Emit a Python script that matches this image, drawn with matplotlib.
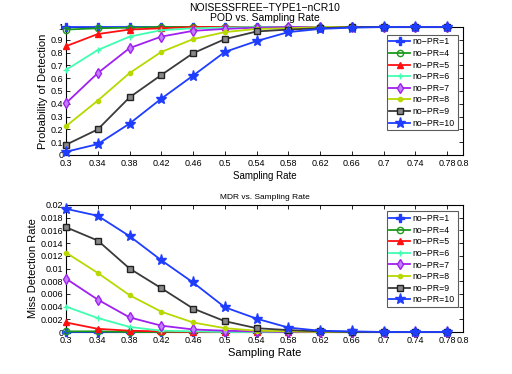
import matplotlib
matplotlib.use("Agg")
import matplotlib.pyplot as plt
import numpy as np

plt.rcParams['font.family'] = ['Liberation Sans', 'DejaVu Sans']

x = [0.3, 0.34, 0.38, 0.42, 0.46, 0.5, 0.54, 0.58, 0.62, 0.66, 0.7, 0.74, 0.78]
labels = ['no\u2212PR=1', 'no\u2212PR=4', 'no\u2212PR=5', 'no\u2212PR=6',
          'no\u2212PR=7', 'no\u2212PR=8', 'no\u2212PR=9', 'no\u2212PR=10']

pod_pr1 = [1, 1, 1, 1, 1, 1, 1, 1, 1, 1, 1, 1, 1]
pod_pr4 = [0.98, 0.99, 0.995, 1, 1, 1, 1, 1, 1, 1, 1, 1, 1]
pod_pr5 = [0.85, 0.945, 0.98, 0.99, 1, 1, 1, 1, 1, 1, 1, 1, 1]
pod_pr6 = [0.665, 0.82, 0.925, 0.975, 0.99, 0.995, 1, 1, 1, 1, 1, 1, 1]
pod_pr7 = [0.405, 0.64, 0.835, 0.925, 0.97, 0.985, 0.995, 1, 1, 1, 1, 1, 1]
pod_pr8 = [0.225, 0.425, 0.64, 0.805, 0.905, 0.96, 0.985, 0.99, 1, 1, 1, 1, 1]
pod_pr9 = [0.08, 0.2, 0.45, 0.625, 0.795, 0.905, 0.965, 0.98, 0.99, 1, 1, 1, 1]
pod_pr10 = [0.025, 0.085, 0.245, 0.44, 0.62, 0.805, 0.89, 0.96, 0.985, 0.995, 1, 1, 1]

mdr_pr1 = [0, 0, 0, 0, 0, 0, 0, 0, 0, 0, 0, 0, 0]
mdr_pr4 = [0.0001, 0.0001, 0, 0, 0, 0, 0, 0, 0, 0, 0, 0, 0]
mdr_pr5 = [0.0015, 0.0005, 0.0002, 0.0001, 0, 0, 0, 0, 0, 0, 0, 0, 0]
mdr_pr6 = [0.0040, 0.0022, 0.0008, 0.0002, 0.0001, 0, 0, 0, 0, 0, 0, 0, 0]
mdr_pr7 = [0.0084, 0.0051, 0.0023, 0.0010, 0.0004, 0.0002, 0.0001, 0, 0, 0, 0, 0, 0]
mdr_pr8 = [0.0125, 0.0093, 0.0058, 0.0032, 0.0015, 0.0006, 0.0002, 0.0001, 0, 0, 0, 0, 0]
mdr_pr9 = [0.0165, 0.0144, 0.0100, 0.0069, 0.0037, 0.0017, 0.0006, 0.0003, 0.0001, 0, 0, 0, 0]
mdr_pr10 = [0.0194, 0.0183, 0.0151, 0.0113, 0.0078, 0.0039, 0.0021, 0.0007, 0.0002, 0.0001, 0, 0, 0]

pod = [pod_pr1, pod_pr4, pod_pr5, pod_pr6, pod_pr7, pod_pr8, pod_pr9, pod_pr10]
mdr = [mdr_pr1, mdr_pr4, mdr_pr5, mdr_pr6, mdr_pr7, mdr_pr8, mdr_pr9, mdr_pr10]

colors = ['#1f3dff', '#1a9a1a', '#ff1010', '#40ffb0', '#a020f0', '#b8d800', '#3a3a3a', '#1f3dff']
markers = ['P', 'o', '^', '+', 'd', '.', 's', '*']
msizes = [5.5, 4.5, 5, 5, 5, 6, 4, 8]
faces = ['#1f3dff', 'none', '#ff1010', '#40ffb0', '#c080ff', '#b8d800', '#888888', '#1f3dff']
edges = ['#1f3dff', '#1a9a1a', '#ff1010', '#40ffb0', '#a020f0', '#b8d800', '#222222', '#1f3dff']

xticks = [0.3, 0.34, 0.38, 0.42, 0.46, 0.5, 0.54, 0.58, 0.62, 0.66, 0.7, 0.74, 0.78, 0.8]
xticklabels = ['0.3', '0.34', '0.38', '0.42', '0.46', '0.5', '0.54', '0.58', '0.62', '0.66', '0.7', '0.74', '0.78', '0.8']

fig = plt.figure(figsize=(5.12, 3.74), dpi=100)
W, H = 512, 374
ax1 = fig.add_axes([66 / W, 1 - 155 / H, (463 - 66) / W, (155 - 27) / H])
ax2 = fig.add_axes([66 / W, 1 - 332 / H, (463 - 66) / W, (332 - 205) / H])


def style(ax):
    ax.set_xlim(0.3, 0.8)
    ax.set_xticks(xticks)
    ax.set_xticklabels(xticklabels)
    ax.tick_params(direction='in', length=3, width=0.6, labelsize=6.5,
                   top=True, right=True)
    ax.tick_params(axis='x', pad=3)
    ax.tick_params(axis='y', pad=2)
    for s in ax.spines.values():
        s.set_linewidth(0.8)


for i in range(8):
    for ax, data in ((ax1, pod[i]), (ax2, mdr[i])):
        ax.plot(x, data, color=colors[i], marker=markers[i], markersize=msizes[i],
                linewidth=1.3, label=labels[i], markeredgecolor=edges[i],
                markerfacecolor=faces[i], markeredgewidth=1.0,
                clip_on=False, zorder=3)

style(ax1)
ax1.set_ylim(0, 1)
ax1.set_yticks(np.arange(0, 1.01, 0.1))
ax1.set_yticklabels(['0', '0.1', '0.2', '0.3', '0.4', '0.5', '0.6', '0.7', '0.8', '0.9', '1'])
ax1.set_xlabel('Sampling Rate', fontsize=7, labelpad=2)
ax1.set_ylabel('Probability of Detection', fontsize=8, labelpad=2)
ax1.set_title('NOISESSFREE\u2212TYPE1\u2212nCR10\nPOD vs. Sampling Rate', fontsize=7.5,
              linespacing=1.1, pad=4)
leg1 = ax1.legend(loc='upper right', fontsize=6.3, frameon=True, fancybox=False,
                  edgecolor='#333333', handlelength=2.4, borderpad=0.3, labelspacing=0.3,
                  handletextpad=0.3, borderaxespad=0.3, bbox_to_anchor=(0.993, 0.96))
leg1.get_frame().set_linewidth(0.8)

style(ax2)
ax2.set_ylim(0, 0.02)
yt = np.arange(0, 0.0201, 0.002)
ax2.set_yticks(yt)
ax2.set_yticklabels(['0', '0.002', '0.004', '0.006', '0.008', '0.01', '0.012', '0.014', '0.016', '0.018', '0.02'])
ax2.set_xlabel('Sampling Rate', fontsize=8, labelpad=2)
ax2.set_ylabel('Miss Detection Rate', fontsize=8, labelpad=2)
ax2.set_title('MDR vs. Sampling Rate', fontsize=6, pad=4)
leg2 = ax2.legend(loc='upper right', fontsize=6.3, frameon=True, fancybox=False,
                  edgecolor='#333333', handlelength=2.4, borderpad=0.3, labelspacing=0.3,
                  handletextpad=0.3, borderaxespad=0.3, bbox_to_anchor=(0.993, 0.97))
leg2.get_frame().set_linewidth(0.8)

fig.savefig('out.png', dpi=100)
